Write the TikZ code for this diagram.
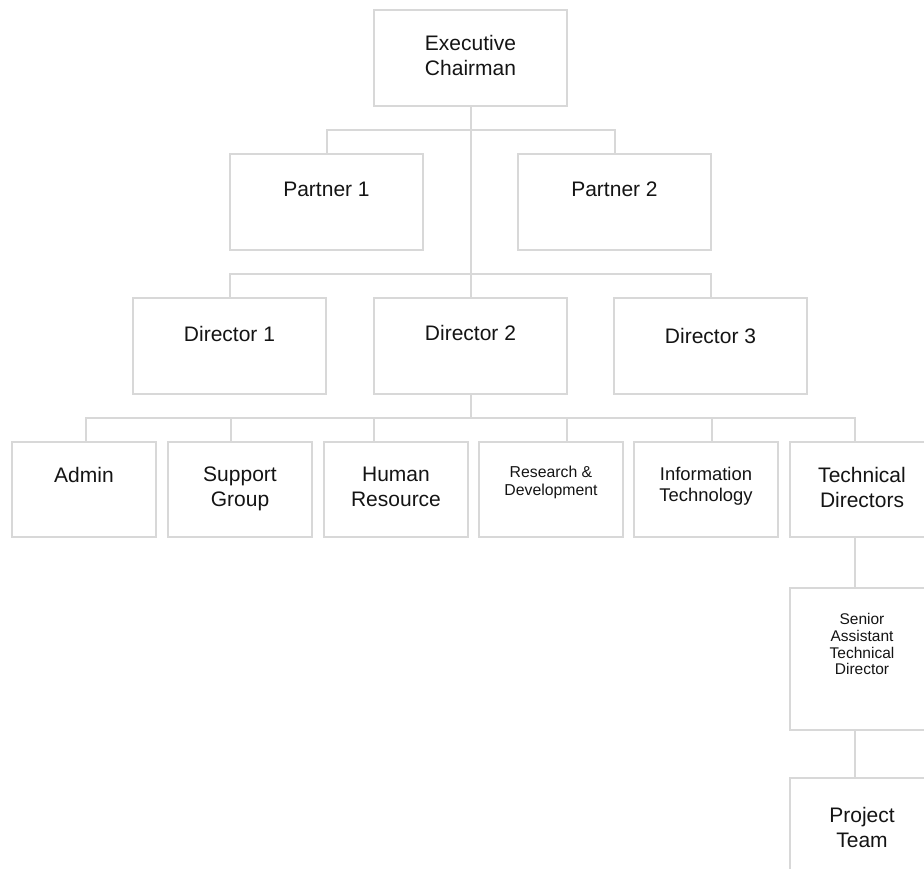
\documentclass[tikz,border=0pt]{standalone}
\usepackage{fontspec}
\setmainfont{Liberation Sans}
\definecolor{linegray}{RGB}{216,216,216}
\definecolor{textcol}{RGB}{20,20,20}
\begin{document}
\begin{tikzpicture}[x=1pt,y=-1pt,
  box/.style={draw=linegray, line width=2pt, inner sep=0pt, outer sep=0pt, anchor=north west},
  big/.style={box, minimum width=193pt, minimum height=96pt},
  small/.style={box, minimum width=144pt, minimum height=95pt},
  link/.style={draw=linegray, line width=2pt},
  txt/.style={anchor=north, inner sep=0pt, align=center, text=textcol, font=\fontsize{21}{25}\selectfont},
  txtsm/.style={txt, font=\fontsize{15.8}{18}\selectfont},
  txtmd/.style={txt, font=\fontsize{18.4}{20.5}\selectfont},
  txtxs/.style={txt, font=\fontsize{15.5}{16.8}\selectfont}]
\useasboundingbox (0,0) rectangle (924,868);
\clip (0,0) rectangle (924,868);

% boxes
\node[big] (exec) at (374,10) {};
\node[big] (p1) at (230,154) {};
\node[big] (p2) at (518,154) {};
\node[big] (d1) at (133,298) {};
\node[big] (d2) at (374,298) {};
\node[big] (d3) at (614,298) {};
\node[small] (admin) at (12,442) {};
\node[small] (sg) at (168,442) {};
\node[small] (hr) at (324,442) {};
\node[small] (rd) at (479,442) {};
\node[small] (it) at (634,442) {};
\node[small] (td) at (790,442) {};
\node[small, minimum height=142pt] (senior) at (790,588) {};
\node[small, minimum height=96pt] (proj) at (790,778) {};

% labels
\node[txt] (exec-t) at ([yshift=-25pt]exec.north) {Executive\\Chairman};
\node[txt] (p1-t) at ([yshift=-28pt]p1.north) {Partner 1};
\node[txt] (p2-t) at ([yshift=-28pt]p2.north) {Partner 2};
\node[txt] (d1-t) at ([yshift=-28pt]d1.north) {Director 1};
\node[txt] (d2-t) at ([yshift=-27pt]d2.north) {Director 2};
\node[txt] (d3-t) at ([yshift=-30pt]d3.north) {Director 3};
\node[txt] (admin-t) at ([yshift=-25pt]admin.north) {Admin};
\node[txt] (sg-t) at ([yshift=-25pt]sg.north) {Support\\Group};
\node[txt] (hr-t) at ([yshift=-25pt]hr.north) {Human\\Resource};
\node[txtsm] (rd-t) at ([yshift=-24pt]rd.north) {Research \&\\Development};
\node[txtmd] (it-t) at ([yshift=-25pt]it.north) {Information\\Technology};
\node[txt] (td-t) at ([yshift=-25pt]td.north) {Technical\\Directors};
\node[txtxs] (senior-t) at ([yshift=-25pt]senior.north) {Senior\\Assistant\\Technical\\Director};
\node[txt] (proj-t) at ([yshift=-29pt]proj.north) {Project\\Team};

% connectors
\draw[link] (exec.south) -- (d2.north);
\draw[link] (p1.north) -- ++(0,-24) -| (p2.north);
\draw[link] (d1.north) -- ++(0,-24) -| (d3.north);
\draw[link] (d2.south) -- ++(0,24) coordinate (bus);
\draw[link] ([xshift=2pt]admin.north) |- (bus) -| ([xshift=-7pt]td.north);
\draw[link] ([xshift=-9pt]sg.north) -- ([xshift=-9pt]sg.north |- bus);
\draw[link] ([xshift=-22pt]hr.north) -- ([xshift=-22pt]hr.north |- bus);
\draw[link] ([xshift=16pt]rd.north) -- ([xshift=16pt]rd.north |- bus);
\draw[link] ([xshift=5.5pt]it.north) -- ([xshift=5.5pt]it.north |- bus);
\draw[link] ([xshift=-7pt]td.south) -- ([xshift=-7pt]senior.north);
\draw[link] ([xshift=-7pt]senior.south) -- ([xshift=-7pt]proj.north);
\end{tikzpicture}
\end{document}
